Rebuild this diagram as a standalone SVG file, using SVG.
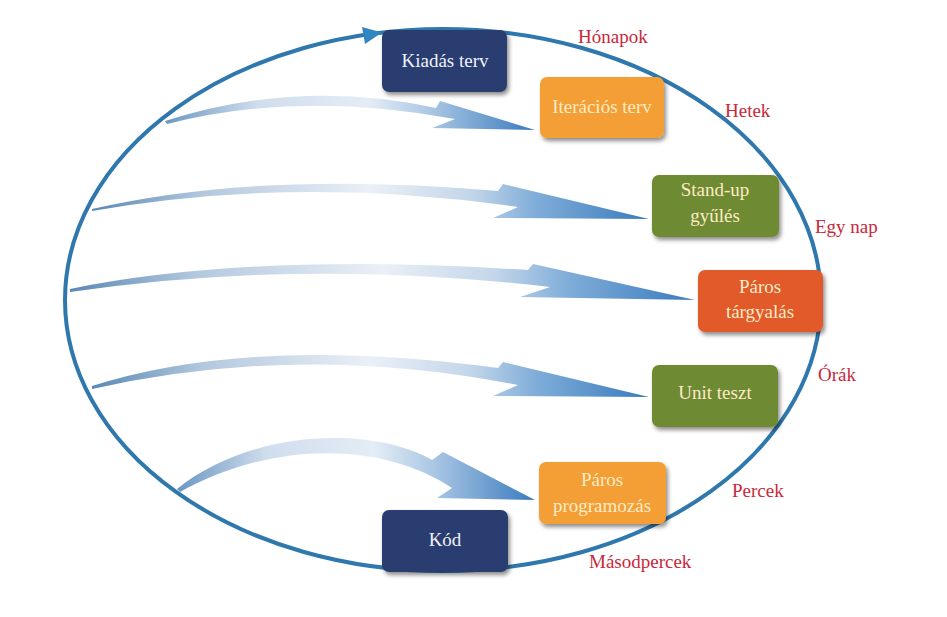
<svg xmlns="http://www.w3.org/2000/svg" width="947" height="617" viewBox="0 0 947 617">
<defs>
<linearGradient id="ag" x1="0" y1="0" x2="1" y2="0">
<stop offset="0" stop-color="#5a88b5"/>
<stop offset="0.2" stop-color="#b3c8de"/>
<stop offset="0.5" stop-color="#eaf0f7"/>
<stop offset="0.68" stop-color="#c3d6ea"/>
<stop offset="0.8" stop-color="#7eacd8"/>
<stop offset="1" stop-color="#3a7bbe"/>
</linearGradient>
<linearGradient id="ag2" x1="0" y1="0" x2="1" y2="0">
<stop offset="0" stop-color="#6a97c2"/>
<stop offset="0.25" stop-color="#d0dded"/>
<stop offset="0.55" stop-color="#e4edf6"/>
<stop offset="0.72" stop-color="#a9c6e3"/>
<stop offset="1" stop-color="#3a7bbe"/>
</linearGradient>
<filter id="sh" x="-10%" y="-10%" width="130%" height="140%">
<feDropShadow dx="2" dy="3" stdDeviation="2" flood-color="#000" flood-opacity="0.45"/>
</filter>
<style>
.box{stroke:none;filter:url(#sh)}
.navy{fill:#2c3d6f}
.orange{fill:#f39f34}
.green{fill:#6e8a30}
.red{fill:#e25a2b}
.t{font-family:"Liberation Serif","Times New Roman",serif;font-size:19px;text-anchor:middle}
.tw{fill:#f0f2f8}
.ty{fill:#fdebc6}
.lbl{font-family:"Liberation Serif","Times New Roman",serif;font-size:19px;fill:#c8283a}
.arr{stroke:none}
</style>
</defs>
<rect width="947" height="617" fill="#ffffff"/>
<g id="connectors">
<ellipse cx="443" cy="300" rx="378" ry="271" fill="none" stroke="#2f78ad" stroke-width="4"/>
<polygon points="382,32.5 362,27 365,44" fill="#2f86c0"/>
<path class="arr" fill="url(#ag2)" d="M 165 121 Q 300 78 436 108 L 440 101 L 535 130 L 432 128 L 455 119 Q 300 90 167 124 Z"/>
<path class="arr" fill="url(#ag)" d="M 92 209 Q 260 170 498 191 L 503 184 L 649 219 L 493 218 L 518 207 Q 300 175 92 211 Z"/>
<path class="arr" fill="url(#ag)" d="M 70 289 Q 250 252 528 270 L 533 264 L 695 300 L 520 297 L 550 287 Q 300 258 70 292 Z"/>
<path class="arr" fill="url(#ag)" d="M 92 386 Q 250 335 498 368 L 503 362 L 649 397 L 493 396 L 518 385 Q 300 342 92 389 Z"/>
<path class="arr" fill="url(#ag2)" d="M 177 489 C 250 430 370 425 432 460 L 443 452 L 535 500 L 437 498 L 452 488 C 380 440 270 442 180 492 Z"/>
</g>
<g id="kiadas"><rect class="box navy" x="382" y="30" width="125" height="62" rx="7"/><text class="t tw" x="445" y="67">Kiadás terv</text></g>
<g id="iteracio"><rect class="box orange" x="540" y="77" width="124" height="61" rx="7"/><text class="t ty" x="602" y="113">Iterációs terv</text></g>
<g id="standup"><rect class="box green" x="652" y="175" width="127" height="62" rx="7"/><text class="t ty" x="715" y="196">Stand-up</text><text class="t ty" x="715" y="222">gyűlés</text></g>
<g id="targyalas"><rect class="box red" x="698" y="270" width="125" height="62" rx="7"/><text class="t ty" x="760" y="293">Páros</text><text class="t ty" x="760" y="318">tárgyalás</text></g>
<g id="unitteszt"><rect class="box green" x="652" y="365" width="126" height="62" rx="7"/><text class="t ty" x="715" y="399">Unit teszt</text></g>
<g id="programozas"><rect class="box orange" x="539" y="462" width="127" height="62" rx="7"/><text class="t ty" x="602" y="486">Páros</text><text class="t ty" x="602" y="512">programozás</text></g>
<g id="kod"><rect class="box navy" x="382" y="510" width="126" height="62" rx="7"/><text class="t tw" x="445" y="546">Kód</text></g>
<g id="labels">
<text class="lbl" x="578" y="43">Hónapok</text>
<text class="lbl" x="725" y="117">Hetek</text>
<text class="lbl" x="815" y="233">Egy nap</text>
<text class="lbl" x="818" y="381">Órák</text>
<text class="lbl" x="732" y="497">Percek</text>
<text class="lbl" x="589" y="568">Másodpercek</text>
</g>
</svg>
